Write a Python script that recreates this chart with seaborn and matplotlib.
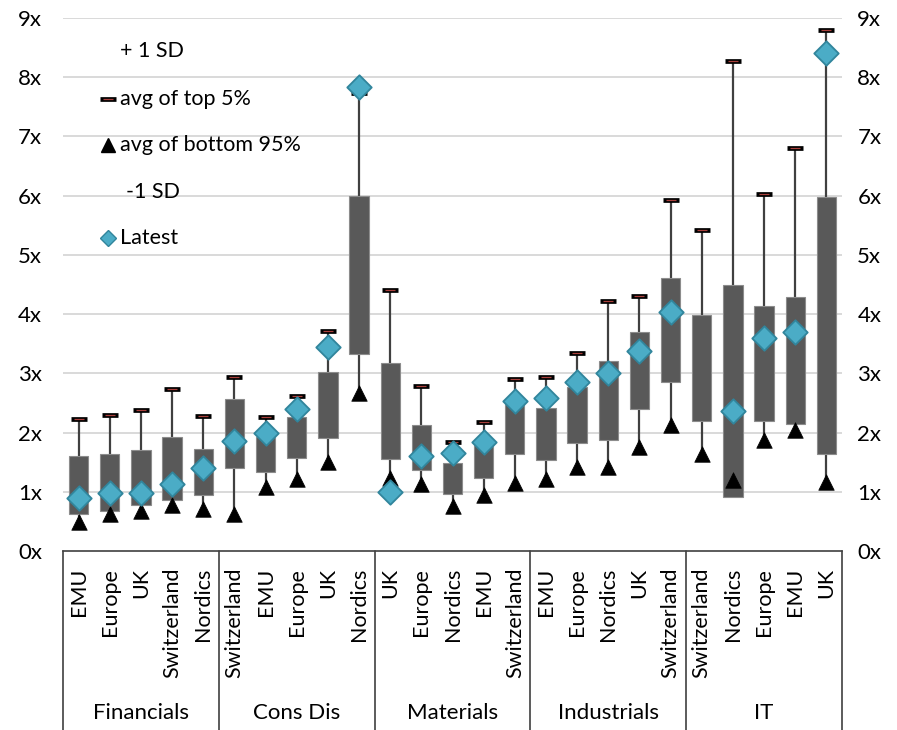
import numpy as np
import pandas as pd
import matplotlib
matplotlib.use("Agg")
import matplotlib.pyplot as plt
import matplotlib.transforms as mtransforms
import seaborn as sns

# ---------------- data ----------------
groups = ["Financials", "Cons Dis", "Materials", "Industrials", "IT"]
countries = [
    "EMU", "Europe", "UK", "Switzerland", "Nordics",
    "Switzerland", "EMU", "Europe", "UK", "Nordics",
    "UK", "Europe", "Nordics", "EMU", "Switzerland",
    "EMU", "Europe", "Nordics", "UK", "Switzerland",
    "Switzerland", "Nordics", "Europe", "EMU", "UK",
]
group_of = [g for g in groups for _ in range(5)]

plus_1sd = [1.61, 1.63, 1.70, 1.93, 1.73,
            2.56, 1.92, 2.26, 3.02, 6.00,
            3.18, 2.12, 1.48, 1.81, 2.50,
            2.41, 2.77, 3.20, 3.69, 4.61,
            3.98, 4.49, 4.14, 4.29, 5.98]
minus_1sd = [0.63, 0.68, 0.77, 0.86, 0.95,
             1.40, 1.34, 1.57, 1.91, 3.32,
             1.55, 1.37, 0.97, 1.24, 1.64,
             1.54, 1.82, 1.87, 2.40, 2.86,
             2.19, 0.92, 2.20, 2.15, 1.64]
avg_top5 = [2.23, 2.30, 2.38, 2.74, 2.28,
            2.94, 2.27, 2.62, 3.72, 7.73,
            4.40, 2.78, 1.84, 2.18, 2.90,
            2.93, 3.35, 4.22, 4.31, 5.92,
            5.42, 8.28, 6.02, 6.80, 8.80]
avg_bottom95 = [0.49, 0.63, 0.68, 0.78, 0.71,
                0.63, 1.08, 1.21, 1.51, 2.66,
                1.23, 1.13, 0.76, 0.95, 1.14,
                1.21, 1.41, 1.41, 1.76, 2.12,
                1.64, 1.20, 1.87, 2.05, 1.16]
latest = [0.89, 0.98, 0.98, 1.13, 1.40,
          1.85, 2.00, 2.39, 3.45, 7.84,
          1.00, 1.60, 1.66, 1.84, 2.54,
          2.59, 2.86, 3.00, 3.38, 4.03,
          np.nan, 2.37, 3.60, 3.70, 8.41]
y_ticks = list(range(10))
y_labels = [f"{v}x" for v in y_ticks]

df = pd.DataFrame({
    "pos": np.arange(len(countries)),
    "country": countries,
    "group": group_of,
    "hi": plus_1sd,
    "lo": minus_1sd,
    "top5": avg_top5,
    "bot95": avg_bottom95,
    "latest": latest,
})

# ---------------- style ----------------
sns.set_theme(style="white")
plt.rcParams["font.family"] = ["Lato", "DejaVu Sans"]
TXT = "#000000"
BOX = "#595959"
WHISK = "#404040"
DIA = "#4BACC6"
DIA_EDGE = "#31859C"
GRID = "#D9D9D9"
FS_TICK = 16
FS_CAT = 15.5
FS_GRP = 16
FS_LEG = 15.5

fig = plt.figure(figsize=(8.97, 7.30), dpi=100)
ax = fig.add_axes([63 / 897, 1 - 551 / 730, (842 - 63) / 897, (551 - 18) / 730])

ax.set_xlim(-0.5, len(countries) - 0.5)
ax.set_ylim(0, 9)

# gridlines
for v in y_ticks[1:]:
    ax.axhline(v, color=GRID, lw=1.4, zorder=0)

# whiskers (bottom-95% avg to top-5% avg)
ax.vlines(df["pos"], df["bot95"], df["top5"], color=WHISK, lw=1.6, zorder=2)

# boxes (-1 SD to +1 SD)
ax.bar(df["pos"], df["hi"] - df["lo"], bottom=df["lo"], width=0.62,
       color=BOX, edgecolor="#8C8C8C", linewidth=0.8, zorder=3)

# caps: avg of top 5%
sns.scatterplot(data=df, x="pos", y="top5", marker="_", s=125, color="black",
                linewidth=3.4, zorder=4, ax=ax, legend=False)
sns.scatterplot(data=df, x="pos", y="top5", marker="_", s=55, color="#A8403C",
                linewidth=0.9, zorder=5, ax=ax, legend=False)
# triangles: avg of bottom 95%
sns.scatterplot(data=df, x="pos", y="bot95", marker="^", s=125, color="black",
                edgecolor="black", linewidth=0.5, zorder=6, ax=ax, legend=False)
# diamonds: latest
sns.scatterplot(data=df.dropna(subset=["latest"]), x="pos", y="latest", marker="D",
                s=155, color=DIA, edgecolor=DIA_EDGE, linewidth=1.3, zorder=7,
                ax=ax, legend=False)

# axes styling
for side in ["left", "right", "top"]:
    ax.spines[side].set_visible(False)
ax.spines["bottom"].set_color(WHISK)
ax.spines["bottom"].set_linewidth(1.2)
ax.set_xlabel("")
ax.set_ylabel("")
ax.set_yticks(y_ticks)
ax.set_yticklabels(y_labels, fontsize=FS_TICK, color=TXT)
ax.tick_params(axis="y", length=0, pad=15)
ax.set_xticks(df["pos"])
ax.set_xticklabels(countries, rotation=90, fontsize=FS_CAT, color=TXT, va="top", ha="center")
ax.tick_params(axis="x", length=0, pad=12)

ax2 = ax.twinx()
ax2.set_ylim(0, 9)
ax2.set_yticks(y_ticks)
ax2.set_yticklabels(y_labels, fontsize=FS_TICK, color=TXT)
ax2.tick_params(axis="y", length=0, pad=11)
for side in ["left", "right", "top", "bottom"]:
    ax2.spines[side].set_visible(False)
ax2.grid(False)

# multi-level category axis: separators and group labels
trans = mtransforms.blended_transform_factory(ax.transData, ax.transAxes)
y_bottom = -(730 - 551) / 533
for k in range(len(groups) + 1):
    xb = k * 5 - 0.5
    ax.plot([xb, xb], [0, y_bottom], transform=trans, color=WHISK, lw=1.2,
            clip_on=False, zorder=1)
for k, g in enumerate(groups):
    ax.text(k * 5 + 2, -(713 - 551) / 533, g, transform=trans, ha="center",
            va="center", fontsize=FS_GRP, color=TXT)

# legend (manual, Excel-like)
leg_rows = [("+ 1 SD", None, 51), ("avg of top 5%", "cap", 99),
            ("avg of bottom 95%", "tri", 145), ("-1 SD", None, 192),
            ("Latest", "dia", 238)]
for label, kind, ypx in leg_rows:
    yf = 1 - ypx / 730
    xt = 126 / 897 if label == "-1 SD" else 120 / 897
    fig.text(xt, yf, label, ha="left", va="center", fontsize=FS_LEG, color=TXT)
    xm = 108 / 897
    if kind == "cap":
        fig.lines.append(plt.Line2D([xm], [yf], marker="_", markersize=11, mew=3.4,
                                    color="black", transform=fig.transFigure))
        fig.lines.append(plt.Line2D([xm], [yf], marker="_", markersize=7.5, mew=0.9,
                                    color="#A8403C", transform=fig.transFigure))
    elif kind == "tri":
        fig.lines.append(plt.Line2D([xm], [yf], marker="^", markersize=10,
                                    color="black", transform=fig.transFigure))
    elif kind == "dia":
        fig.lines.append(plt.Line2D([xm], [yf], marker="D", markersize=8,
                                    markerfacecolor=DIA, markeredgecolor=DIA_EDGE,
                                    mew=1.0, transform=fig.transFigure))

fig.savefig("out.png", dpi=100)
